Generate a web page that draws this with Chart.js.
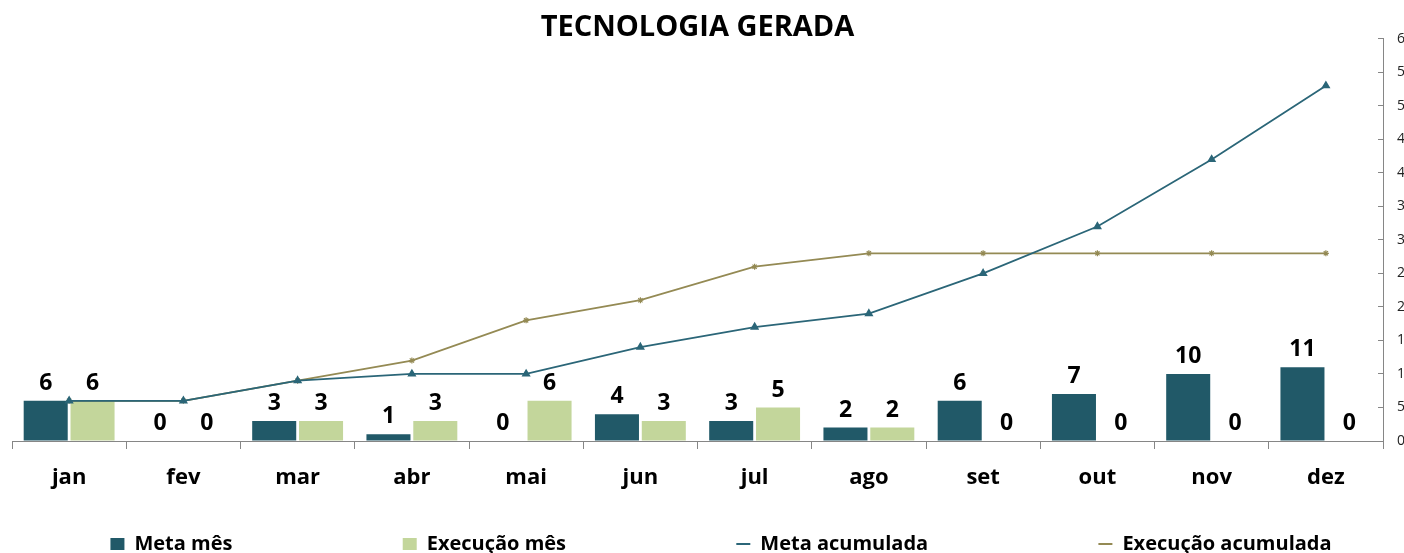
<!DOCTYPE html>
<html>
<head>
<meta charset="utf-8">
<script src="https://cdn.jsdelivr.net/npm/chart.js@4.4.1/dist/chart.umd.min.js"></script>
<style>
  html, body { margin: 0; padding: 0; background: #fff; overflow: hidden; }
  #wrap { width: 1430px; height: 553px; position: relative; }
</style>
</head>
<body>
<div id="wrap"><canvas id="myChart"></canvas></div>
<script>
const months = ["jan", "fev", "mar", "abr", "mai", "jun", "jul", "ago", "set", "out", "nov", "dez"];
const metaMes = [6, 0, 3, 1, 0, 4, 3, 2, 6, 7, 10, 11];
const execucaoMes = [6, 0, 3, 3, 6, 3, 5, 2, 0, 0, 0, 0];
const metaAcumulada = [6, 6, 9, 10, 10, 14, 17, 19, 25, 32, 42, 53];
const execucaoAcumulada = [6, 6, 9, 12, 18, 21, 26, 28, 28, 28, 28, 28];

const ctx = document.getElementById("myChart");
const FONT = "'Open Sans', 'DejaVu Sans', sans-serif";

Chart.defaults.font.family = FONT;
Chart.defaults.color = "#000000";

// values above the bars
const barLabels = {
  id: "barLabels",
  afterDatasetsDraw(chart) {
    const c = chart.ctx;
    c.save();
    c.font = "bold 23px " + FONT;
    c.fillStyle = "#000000";
    c.textAlign = "center";
    c.textBaseline = "bottom";
    chart.data.datasets.forEach((ds, i) => {
      if (ds.type !== "bar") return;
      const meta = chart.getDatasetMeta(i);
      meta.data.forEach((el, j) => {
        c.fillText(String(ds.data[j]), el.x, el.y - 6);
      });
    });
    c.restore();
  },
};

function spaces(text, gap) {
  const c = document.createElement("canvas").getContext("2d");
  c.font = "bold 20px " + FONT;
  const w = c.measureText(" ").width;
  return text + " ".repeat(Math.round(gap / w));
}

const chart = new Chart(ctx, {
  data: {
    labels: months,
    datasets: [
      {
        type: "bar",
        label: "Meta mês",
        data: metaMes,
        backgroundColor: "#215968",
        categoryPercentage: 0.82,
        barPercentage: 0.94,
        order: 2,
      },
      {
        type: "bar",
        label: "Execução mês",
        data: execucaoMes,
        backgroundColor: "#C3D69B",
        categoryPercentage: 0.82,
        barPercentage: 0.94,
        order: 2,
      },
      {
        type: "line",
        label: "Meta acumulada",
        data: metaAcumulada,
        borderColor: "#2B6678",
        backgroundColor: "#2B6678",
        borderWidth: 1.8,
        pointStyle: "triangle",
        pointRadius: 3.5,
        tension: 0,
        order: 1,
      },
      {
        type: "line",
        label: "Execução acumulada",
        data: execucaoAcumulada,
        borderColor: "#948A54",
        backgroundColor: "#948A54",
        borderWidth: 1.8,
        pointStyle: "star",
        pointRadius: 3,
        pointBorderWidth: 1.2,
        tension: 0,
        order: 1,
      },
    ],
  },
  options: {
    responsive: true,
    maintainAspectRatio: false,
    animation: false,
    layout: { padding: { left: 12, right: 0, top: 0, bottom: -11 } },
    scales: {
      x: {
        offset: true,
        afterFit: function (scale) {
          scale.height = 89;
        },
        grid: {
          display: true,
          drawOnChartArea: false,
          tickLength: 8,
          color: "#868686",
        },
        border: { color: "#868686" },
        ticks: {
          font: { size: 22, weight: "bold" },
          color: "#000000",
          padding: 16,
        },
      },
      y: {
        position: "right",
        min: 0,
        max: 60,
        afterFit: function (scale) {
          scale.width = 47;
        },
        grid: {
          drawOnChartArea: false,
          tickLength: -5,
          color: "#868686",
        },
        border: { color: "#868686" },
        ticks: {
          stepSize: 5,
          font: { size: 14 },
          color: "#222222",
          padding: 19,
        },
      },
    },
    plugins: {
      title: {
        display: true,
        text: "TECNOLOGIA GERADA",
        fullSize: false,
        font: { size: 29, weight: "bold" },
        color: "#000000",
        padding: { top: 10, bottom: -6 },
      },
      legend: {
        position: "bottom",
        labels: {
          usePointStyle: true,
          pointStyleWidth: 14,
          boxHeight: 12,
          padding: 4,
          font: { size: 20, weight: "bold" },
          color: "#000000",
          generateLabels: function (chart) {
            const items = Chart.defaults.plugins.legend.labels.generateLabels(chart);
            items.sort((a, b) => a.datasetIndex - b.datasetIndex);
            items.forEach((item, i) => {
              const ds = chart.data.datasets[item.datasetIndex];
              item.pointStyle = ds.type === "bar" ? "rect" : "line";
              item.lineWidth = ds.type === "bar" ? 0 : 2;
              item.strokeStyle = ds.borderColor || ds.backgroundColor;
              item.fillStyle = ds.backgroundColor;
              if (i < items.length - 1) item.text = spaces(item.text, 166);
            });
            return items;
          },
        },
      },
      tooltip: { enabled: false },
    },
  },
  plugins: [barLabels],
});
</script>
</body>
</html>
